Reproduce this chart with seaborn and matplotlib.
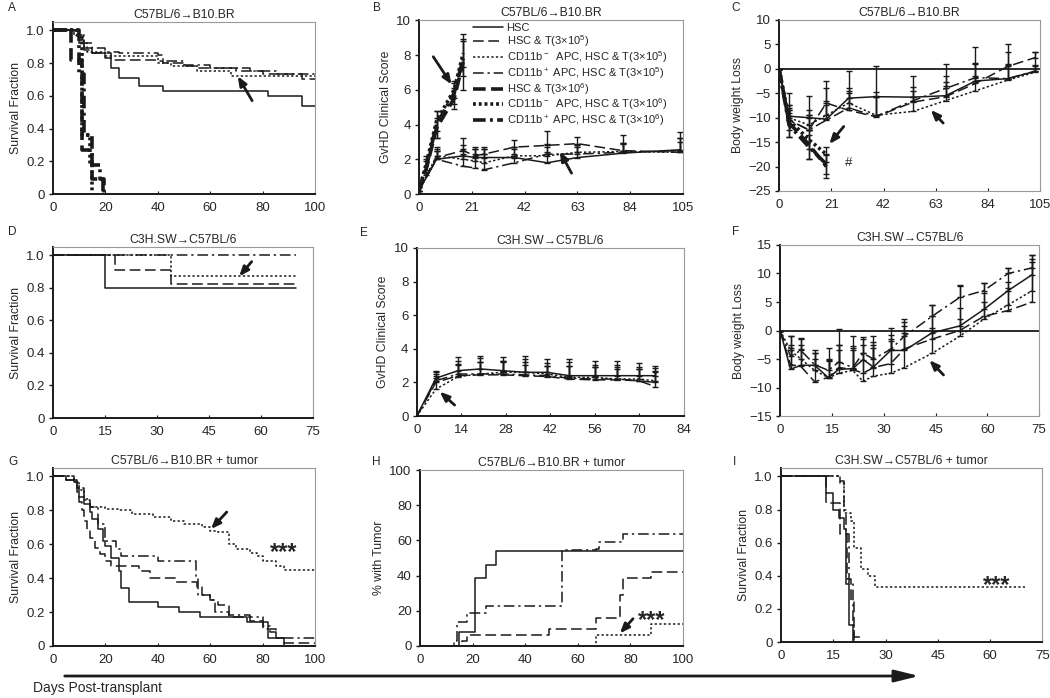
import matplotlib
matplotlib.use('Agg')
import matplotlib.pyplot as plt
import seaborn as sns

sns.set_theme(style='ticks')
plt.rcParams['font.family'] = ['Liberation Sans', 'DejaVu Sans']
plt.rcParams['mathtext.fontset'] = 'custom'
plt.rcParams['mathtext.rm'] = 'Liberation Sans'
plt.rcParams['mathtext.default'] = 'regular'

# ---- A: survival, C57BL/6 -> B10.BR
a_hsc_t = [0, 10, 12, 15, 20, 22, 25, 33, 42, 82, 95, 100]
a_hsc_s = [1.0, 0.94, 0.89, 0.86, 0.83, 0.77, 0.71, 0.66, 0.63, 0.60, 0.54, 0.54]
a_t5_t = [0, 8, 10, 12, 15, 22, 40, 42, 50, 55, 70, 80, 95, 100]
a_t5_s = [1.0, 0.97, 0.92, 0.88, 0.86, 0.82, 0.81, 0.80, 0.78, 0.77, 0.75, 0.73, 0.70, 0.70]
a_neg5_t = [0, 9, 11, 13, 20, 40, 45, 55, 68, 100]
a_neg5_s = [1.0, 0.97, 0.92, 0.87, 0.84, 0.80, 0.78, 0.75, 0.72, 0.72]
a_pos5_t = [0, 10, 12, 15, 20, 25, 40, 42, 50, 60, 75, 85, 100]
a_pos5_s = [1.0, 0.97, 0.92, 0.89, 0.87, 0.86, 0.85, 0.81, 0.79, 0.77, 0.75, 0.73, 0.73]
a_t6_t = [0, 7, 11, 15, 19]
a_t6_s = [1.0, 0.82, 0.27, 0.09, 0]
a_neg6_t = [0, 9, 11, 14, 15]
a_neg6_s = [1.0, 0.97, 0.36, 0.18, 0]
a_pos6_t = [0, 10, 12, 15, 18, 19.5]
a_pos6_s = [1.0, 0.73, 0.36, 0.18, 0.09, 0]

# ---- B: GvHD score, C57BL/6 -> B10.BR
b_days = [0, 7, 17.6, 22.3, 26, 38, 51, 63, 81, 104]
b_hsc = [0.2, 2.0, 2.2, 2.1, 2.1, 2.1, 1.8, 2.1, 2.35, 2.55]
b_t5 = [0.2, 2.1, 2.5, 2.2, 2.3, 2.7, 2.8, 2.9, 2.5, 2.4]
b_neg5 = [0.2, 2.2, 2.0, 1.9, 1.8, 2.2, 2.2, 2.4, 2.45, 2.4]
b_pos5 = [0.2, 2.0, 1.6, 1.5, 1.4, 1.8, 2.3, 2.3, 2.4, 2.5]
b_hsc_err = [0.3, 0.5, 0.6, 0.5, 0.5, 0.6, 0.6, 0.6, 0.6, 1.0]
b_t5_err = [0.3, 0.6, 0.7, 0.5, 0.4, 0.4, 0.8, 0.4, 0.9, 0.8]
b_neg5_err = [0.3, 0.4, 0.6, 0.7, 0.8, 0.4, 0.5, 0.4, 0.5, 0.6]
b_pos5_err = [0.3, 0.5, 0.7, 0.8, 0.9, 0.5, 0.6, 0.5, 0.5, 0.7]
b_days6 = [0, 3, 7, 14, 17.6]
b_t6 = [0.2, 1.5, 3.8, 5.5, 7.6]
b_neg6 = [0.2, 1.8, 4.2, 6.0, 8.1]
b_pos6 = [0.2, 1.6, 4.0, 5.8, 7.8]
b_t6_err = [0.2, 0.4, 0.6, 0.6, 1.6]
b_neg6_err = [0.2, 0.4, 0.6, 0.5, 0.8]
b_pos6_err = [0.2, 0.4, 0.8, 0.6, 1.0]

# ---- C: body weight, C57BL/6 -> B10.BR
c_days = [0, 4, 12, 19, 28, 39, 54, 67, 79, 92, 103]
c_hsc = [0, -9.7, -10.0, -10.3, -6.0, -5.7, -5.8, -5.5, -2.5, -2.0, -0.5]
c_t5 = [0, -10.5, -12.5, -7.0, -8.5, -9.8, -6.8, -5.7, -3.0, 0.5, 2.3]
c_neg5 = [0, -10.0, -11.5, -9.5, -7.0, -9.5, -8.7, -6.5, -4.5, -2.3, -0.7]
c_pos5 = [0, -10.5, -12.5, -10.5, -8.0, -9.7, -6.5, -4.0, -1.8, -2.0, -0.5]
c_hsc_err = [0, 4.7, 4.5, 7.8, 5.5, 6.2, 4.3, 6.5, 7.0, 7.0, 4.0]
c_t5_err = [0, 3.0, 3.0, 3.0, 4.0, 4.0, 3.0, 3.0, 4.0, 3.0, 1.2]
c_neg5_err = [0, 2.5, 3.0, 3.0, 3.0, 4.0, 3.0, 3.0, 3.0, 3.0, 1.5]
c_pos5_err = [0, 2.0, 3.0, 3.0, 3.0, 5.0, 2.0, 2.5, 3.0, 3.0, 1.0]
c_days6 = [0, 4, 12, 19]
c_t6 = [0, -11.0, -15.5, -20.0]
c_neg6 = [0, -10.5, -14.5, -17.5]
c_pos6 = [0, -11.5, -16.0, -19.5]
c_t6_err = [0, 3.0, 3.0, 2.3]
c_neg6_err = [0, 2.0, 2.0, 1.5]
c_pos6_err = [0, 2.5, 2.5, 2.0]

# ---- D: survival, C3H.SW -> C57BL/6
d_hsc_t = [0, 15, 70]
d_hsc_s = [1.0, 0.80, 0.80]
d_t5_t = [0, 18, 34, 70]
d_t5_s = [1.0, 0.91, 0.82, 0.82]
d_neg5_t = [0, 34, 70]
d_neg5_s = [1.0, 0.87, 0.87]
d_pos5_t = [0, 70]
d_pos5_s = [1.0, 1.0]

# ---- E: GvHD score, C3H.SW -> C57BL/6
e_days = [0, 6, 13, 20, 27, 34, 41, 48, 56, 63, 70, 75]
e_hsc = [0, 2.25, 2.7, 2.8, 2.7, 2.6, 2.6, 2.4, 2.4, 2.4, 2.4, 2.4]
e_t5 = [0, 2.0, 2.4, 2.45, 2.45, 2.4, 2.35, 2.2, 2.15, 2.15, 2.1, 1.75]
e_neg5 = [0, 1.6, 2.35, 2.5, 2.6, 2.6, 2.5, 2.3, 2.3, 2.2, 2.2, 2.1]
e_pos5 = [0, 2.1, 2.5, 2.5, 2.5, 2.45, 2.4, 2.25, 2.2, 2.2, 2.1, 2.0]
e_hsc_err = [0, 0.4, 0.8, 0.75, 0.8, 0.95, 0.8, 1.0, 0.9, 0.9, 0.75, 0.55]
e_t5_err = [0, 0.5, 0.9, 1.0, 0.8, 1.0, 0.8, 1.0, 0.9, 0.9, 0.8, 1.1]
e_neg5_err = [0, 0.8, 0.7, 0.7, 0.6, 0.6, 0.5, 0.7, 0.6, 0.6, 0.6, 0.6]
e_pos5_err = [0, 0.5, 0.6, 0.7, 0.8, 0.6, 0.6, 0.7, 0.7, 0.7, 0.7, 0.6]

# ---- F: body weight, C3H.SW -> C57BL/6
f_days = [0, 3, 6, 10, 14, 17, 21, 24, 27, 32, 36, 44, 52, 59, 66, 73]
f_hsc = [0, -6.8, -6.1, -6.1, -8.3, -6.8, -6.7, -5.1, -6.4, -3.5, -3.5, -0.4, 0.8, 3.7, 7.0, 9.8]
f_t5 = [0, -6.0, -6.3, -9.0, -8.2, -6.5, -6.8, -7.5, -6.5, -5.8, -3.2, -1.5, 0.0, 2.5, 3.5, 5.0]
f_neg5 = [0, -3.5, -5.0, -7.0, -8.3, -7.5, -7.0, -8.9, -8.0, -7.5, -6.5, -4.0, -1.0, 2.0, 4.5, 7.0]
f_pos5 = [0, -4.5, -3.5, -6.0, -7.0, -5.5, -6.5, -4.0, -5.0, -3.3, -1.0, 2.5, 5.8, 7.0, 10.0, 11.0]
f_hsc_err = [0, 5.8, 4.8, 2.6, 5.3, 7.1, 5.7, 3.9, 5.4, 4.0, 5.5, 4.9, 7.2, 4.6, 4.0, 3.4]
f_t5_err = [0, 3, 3, 4, 3, 4, 4, 5, 4, 4, 4, 4, 4, 4, 4, 7]
f_neg5_err = [0, 2.5, 2.5, 3, 3, 4, 4, 5, 5, 6, 6, 4.5, 3, 3, 4, 5.5]
f_pos5_err = [0, 2, 2, 2, 2, 3, 3, 2.5, 3, 2.5, 2.5, 2, 2, 1.3, 1, 2.2]

# ---- G: survival with tumor, C57BL/6 -> B10.BR
g_hsc_t = [0, 5, 9, 10, 12, 14, 15, 17, 19, 20, 22, 25, 26, 29, 40, 48, 56, 74, 82, 88, 100]
g_hsc_s = [1.0, 0.98, 0.93, 0.88, 0.84, 0.79, 0.75, 0.69, 0.62, 0.59, 0.52, 0.44, 0.34, 0.26,
           0.23, 0.20, 0.17, 0.14, 0.05, 0, 0]
g_t5_t = [0, 5, 9, 10, 11, 12, 13, 14, 16, 18, 20, 22, 33, 37, 47, 55, 57, 60, 63, 67, 75, 80, 85, 88, 100]
g_t5_s = [1.0, 0.98, 0.91, 0.85, 0.80, 0.74, 0.68, 0.64, 0.58, 0.54, 0.50, 0.47, 0.44, 0.40, 0.38,
          0.35, 0.30, 0.27, 0.24, 0.17, 0.15, 0.10, 0.05, 0.02, 0.02]
g_neg5_t = [0, 8, 10, 12, 14, 20, 25, 30, 38, 45, 50, 57, 60, 63, 67, 70, 75, 78, 80, 85, 88, 100]
g_neg5_s = [1.0, 0.97, 0.92, 0.86, 0.82, 0.81, 0.80, 0.78, 0.76, 0.74, 0.72, 0.70, 0.68, 0.67, 0.60,
            0.57, 0.55, 0.53, 0.50, 0.47, 0.45, 0.45]
g_pos5_t = [0, 8, 10, 12, 14, 17, 20, 24, 26, 40, 54.5, 55.5, 60, 62, 67, 75, 80, 83, 85, 100]
g_pos5_s = [1.0, 0.97, 0.93, 0.87, 0.82, 0.72, 0.62, 0.57, 0.53, 0.50, 0.40, 0.30, 0.27, 0.20, 0.18,
            0.17, 0.12, 0.08, 0.05, 0.05]

# ---- H: % with tumor
h_hsc_t = [0, 15, 21, 25, 29, 100]
h_hsc_p = [0, 7.7, 38.5, 46.2, 53.8, 53.8]
h_t5_t = [0, 16, 18, 49, 67, 76, 77, 88, 100]
h_t5_p = [0, 3.0, 6.5, 9.7, 16.1, 29.0, 38.7, 41.9, 41.9]
h_neg5_t = [0, 67, 88, 100]
h_neg5_p = [0, 6.2, 12.5, 12.5]
h_pos5_t = [0, 13, 14, 18, 25, 54, 67, 68, 77, 100]
h_pos5_p = [0, 3.0, 13.5, 18.5, 23.0, 54.5, 55.0, 59.0, 63.5, 63.5]

# ---- I: survival with tumor, C3H.SW -> C57BL/6
i_hsc_t = [0, 13, 15, 16.5, 18, 18.5, 19.5, 20.5]
i_hsc_s = [1.0, 0.90, 0.80, 0.75, 0.68, 0.35, 0.10, 0]
i_t5_t = [0, 13, 17, 19, 20, 21, 22.5]
i_t5_s = [1.0, 0.84, 0.65, 0.38, 0.25, 0.03, 0]
i_neg5_t = [0, 17, 18, 20, 21, 23, 25, 27, 70]
i_neg5_s = [1.0, 0.96, 0.78, 0.73, 0.57, 0.44, 0.40, 0.33, 0.33]
i_pos5_t = [0, 17, 18, 18.5, 19.5, 20.5, 21]
i_pos5_s = [1.0, 0.97, 0.80, 0.65, 0.35, 0.10, 0]

legend_labels = {
    'hsc': 'HSC',
    't5': 'HSC & T(3×10$^5$)',
    'neg5': 'CD11b$^-$  APC, HSC & T(3×10$^5$)',
    'pos5': 'CD11b$^+$ APC, HSC & T(3×10$^5$)',
    't6': 'HSC & T(3×10$^6$)',
    'neg6': 'CD11b$^-$  APC, HSC & T(3×10$^6$)',
    'pos6': 'CD11b$^+$ APC, HSC & T(3×10$^6$)',
}
styles = {
    'hsc': (1.1, '-'),
    't5': (1.1, (0, (7, 3))),
    'neg5': (1.1, (0, (1.5, 1.5))),
    'pos5': (1.1, (0, (7, 2.5, 1.5, 2.5))),
    't6': (2.6, (0, (3.5, 1.5))),
    'neg6': (2.6, (0, (0.8, 0.8))),
    'pos6': (2.6, (0, (3.5, 1.2, 0.8, 1.2))),
}


def draw(ax, x, y, key, steps=False, label=None):
    lw, ls = styles[key]
    sns.lineplot(x=x, y=y, ax=ax, color='k', linewidth=lw, linestyle=ls,
                 drawstyle='steps-post' if steps else 'default',
                 errorbar=None, label=label, legend=False)


def errs(ax, x, y, up, down=None):
    lo = [0] * len(up) if down is None else down
    ax.errorbar(x, y, yerr=[lo, up], fmt='none', ecolor='k', elinewidth=1.0,
                capsize=2.4, capthick=1.0)


def frame(ax, xlim, xt, ylim, yt, ylab, title, ytl=None, zero_line=False):
    ax.set_xlim(*xlim)
    ax.set_ylim(*ylim)
    ax.set_xticks(xt)
    ax.set_yticks(yt)
    if ytl is not None:
        ax.set_yticklabels(ytl)
    ax.set_xlabel('')
    ax.set_ylabel(ylab, fontsize=8.8, labelpad=3)
    ax.set_title(title, fontsize=8.8, pad=3)
    for s in ['top', 'right']:
        ax.spines[s].set_color('#9a9a9a')
        ax.spines[s].set_linewidth(0.8)
    ax.spines['left'].set_color('k')
    ax.spines['left'].set_linewidth(1.4)
    if zero_line:
        ax.spines['bottom'].set_color('#9a9a9a')
        ax.spines['bottom'].set_linewidth(0.8)
        ax.axhline(0, color='k', lw=1.3)
    else:
        ax.spines['bottom'].set_color('k')
        ax.spines['bottom'].set_linewidth(1.4)
    ax.tick_params(axis='y', direction='out', length=3, width=1, labelsize=9.5, pad=3, color='k')
    ax.tick_params(axis='x', direction='in', length=2.5, width=0.8, labelsize=9.5, pad=6, color='k')


def arrow(ax, tail, head):
    ax.annotate('', xy=head, xytext=tail,
                arrowprops=dict(arrowstyle='-|>,head_length=0.55,head_width=0.22',
                                color='k', lw=2.0, mutation_scale=10, shrinkA=0, shrinkB=0))


def stars(ax, x, y):
    ax.text(x, y, '***', fontsize=17, fontweight='bold', ha='center', va='center')


fig = plt.figure(figsize=(10.5, 6.98), dpi=100)
axA = fig.add_axes([0.0505, 0.722, 0.2495, 0.2464])
axB = fig.add_axes([0.399, 0.722, 0.2514, 0.249])
axC = fig.add_axes([0.742, 0.7264, 0.2486, 0.245])
axD = fig.add_axes([0.0505, 0.4011, 0.2476, 0.245])
axE = fig.add_axes([0.397, 0.404, 0.254, 0.2407])
axF = fig.add_axes([0.743, 0.404, 0.2467, 0.245])
axG = fig.add_axes([0.0505, 0.0745, 0.2495, 0.255])
axH = fig.add_axes([0.4, 0.0745, 0.2505, 0.252])
axI = fig.add_axes([0.744, 0.0802, 0.2486, 0.249])

surv_ticks = [0, 0.2, 0.4, 0.6, 0.8, 1.0]
surv_labels = ['0', '0.2', '0.4', '0.6', '0.8', '1.0']
t1 = 'C57BL/6→B10.BR'
t2 = 'C3H.SW→C57BL/6'

# A
for t, s, k in [(a_hsc_t, a_hsc_s, 'hsc'), (a_t5_t, a_t5_s, 't5'), (a_neg5_t, a_neg5_s, 'neg5'),
                (a_pos5_t, a_pos5_s, 'pos5'), (a_t6_t, a_t6_s, 't6'), (a_neg6_t, a_neg6_s, 'neg6'),
                (a_pos6_t, a_pos6_s, 'pos6')]:
    draw(axA, t, s, k, steps=True)
frame(axA, (0, 100), range(0, 101, 20), (0, 1.05), surv_ticks, 'Survival Fraction', t1, surv_labels)
arrow(axA, (76, 0.57), (70.5, 0.72))

# B
for y, e, k in [(b_hsc, b_hsc_err, 'hsc'), (b_t5, b_t5_err, 't5'), (b_neg5, b_neg5_err, 'neg5'),
                (b_pos5, b_pos5_err, 'pos5')]:
    draw(axB, b_days, y, k, label=legend_labels[k])
    errs(axB, b_days, y, e)
for y, e, k in [(b_t6, b_t6_err, 't6'), (b_neg6, b_neg6_err, 'neg6'), (b_pos6, b_pos6_err, 'pos6')]:
    draw(axB, b_days6, y, k, label=legend_labels[k])
    errs(axB, b_days6, y, e, e)
frame(axB, (0, 105), range(0, 106, 21), (0, 10), range(0, 11, 2), 'GvHD Clinical Score', t1)
arrow(axB, (5.7, 7.9), (13, 6.3))
arrow(axB, (60.7, 1.2), (56, 2.45))
axB.legend(loc='upper left', bbox_to_anchor=(0.195, 0.995), frameon=False, fontsize=8.0,
           handlelength=2.7, handletextpad=0.35, labelspacing=0.0, borderaxespad=0.1, borderpad=0.1)

# C
for y, e, k in [(c_hsc, c_hsc_err, 'hsc'), (c_t5, c_t5_err, 't5'), (c_neg5, c_neg5_err, 'neg5'),
                (c_pos5, c_pos5_err, 'pos5')]:
    draw(axC, c_days, y, k)
    errs(axC, c_days, y, e)
for y, e, k in [(c_t6, c_t6_err, 't6'), (c_neg6, c_neg6_err, 'neg6'), (c_pos6, c_pos6_err, 'pos6')]:
    draw(axC, c_days6, y, k)
    errs(axC, c_days6, y, e, e)
frame(axC, (0, 105), range(0, 106, 21), (-25, 10), range(-25, 11, 5), 'Body weight Loss', t1, zero_line=True)
arrow(axC, (26, -11.8), (20.2, -15.4))
arrow(axC, (66, -11.1), (61, -8.4))
axC.text(28, -19.3, '#', fontsize=9.5, ha='center', va='center')

# D
for t, s, k in [(d_hsc_t, d_hsc_s, 'hsc'), (d_t5_t, d_t5_s, 't5'), (d_neg5_t, d_neg5_s, 'neg5'),
                (d_pos5_t, d_pos5_s, 'pos5')]:
    draw(axD, t, s, k, steps=True)
frame(axD, (0, 75), range(0, 76, 15), (0, 1.05), surv_ticks, 'Survival Fraction', t2, surv_labels)
arrow(axD, (57.3, 0.96), (53.7, 0.87))

# E
for y, e, k in [(e_hsc, e_hsc_err, 'hsc'), (e_t5, e_t5_err, 't5'), (e_neg5, e_neg5_err, 'neg5'),
                (e_pos5, e_pos5_err, 'pos5')]:
    draw(axE, e_days, y, k)
    errs(axE, e_days, y, e)
frame(axE, (0, 84), range(0, 85, 14), (0, 10), range(0, 11, 2), 'GvHD Clinical Score', t2)
arrow(axE, (11.9, 0.65), (7.2, 1.45))

# F
for y, e, k in [(f_hsc, f_hsc_err, 'hsc'), (f_t5, f_t5_err, 't5'), (f_neg5, f_neg5_err, 'neg5'),
                (f_pos5, f_pos5_err, 'pos5')]:
    draw(axF, f_days, y, k)
    errs(axF, f_days, y, e)
frame(axF, (0, 75), range(0, 76, 15), (-15, 15), range(-15, 16, 5), 'Body weight Loss', t2, zero_line=True)
arrow(axF, (47.3, -7.8), (43.2, -5.2))

# G
for t, s, k in [(g_hsc_t, g_hsc_s, 'hsc'), (g_t5_t, g_t5_s, 't5'), (g_neg5_t, g_neg5_s, 'neg5'),
                (g_pos5_t, g_pos5_s, 'pos5')]:
    draw(axG, t, s, k, steps=True)
frame(axG, (0, 100), range(0, 101, 20), (0, 1.05), surv_ticks, 'Survival Fraction', t1 + ' + tumor', surv_labels)
arrow(axG, (66.3, 0.79), (60.3, 0.69))
stars(axG, 88, 0.55)

# H
for t, s, k in [(h_hsc_t, h_hsc_p, 'hsc'), (h_t5_t, h_t5_p, 't5'), (h_neg5_t, h_neg5_p, 'neg5'),
                (h_pos5_t, h_pos5_p, 'pos5')]:
    draw(axH, t, s, k, steps=True)
frame(axH, (0, 100), range(0, 101, 20), (0, 100), range(0, 101, 20), '% with Tumor', t1 + ' + tumor')
arrow(axH, (81, 15.5), (76, 7.2))
stars(axH, 88, 14.5)

# I
for t, s, k in [(i_hsc_t, i_hsc_s, 'hsc'), (i_t5_t, i_t5_s, 't5'), (i_neg5_t, i_neg5_s, 'neg5'),
                (i_pos5_t, i_pos5_s, 'pos5')]:
    draw(axI, t, s, k, steps=True)
frame(axI, (0, 75), range(0, 76, 15), (0, 1.05), surv_ticks, 'Survival Fraction', t2 + ' + tumor', surv_labels)
stars(axI, 62, 0.34)

# panel letters
for lab, x, y in [('A', 0.0076, 0.9885), ('B', 0.355, 0.9885), ('C', 0.697, 0.9885),
                  ('D', 0.0076, 0.6676), ('E', 0.343, 0.6662), ('F', 0.697, 0.6676),
                  ('G', 0.0076, 0.338), ('H', 0.354, 0.338), ('I', 0.698, 0.338)]:
    fig.text(x, y, lab, fontsize=8.5, ha='left', va='center')

# shared time axis arrow
fig.patches.append(matplotlib.patches.FancyArrowPatch(
    (0.059, 0.0315), (0.878, 0.0315), transform=fig.transFigure,
    arrowstyle='-|>,head_length=1.05,head_width=0.26', mutation_scale=14, lw=2, color='k'))
fig.text(0.031, 0.014, 'Days Post-transplant', fontsize=10, ha='left', va='center')

fig.savefig('out.png', dpi=100)
